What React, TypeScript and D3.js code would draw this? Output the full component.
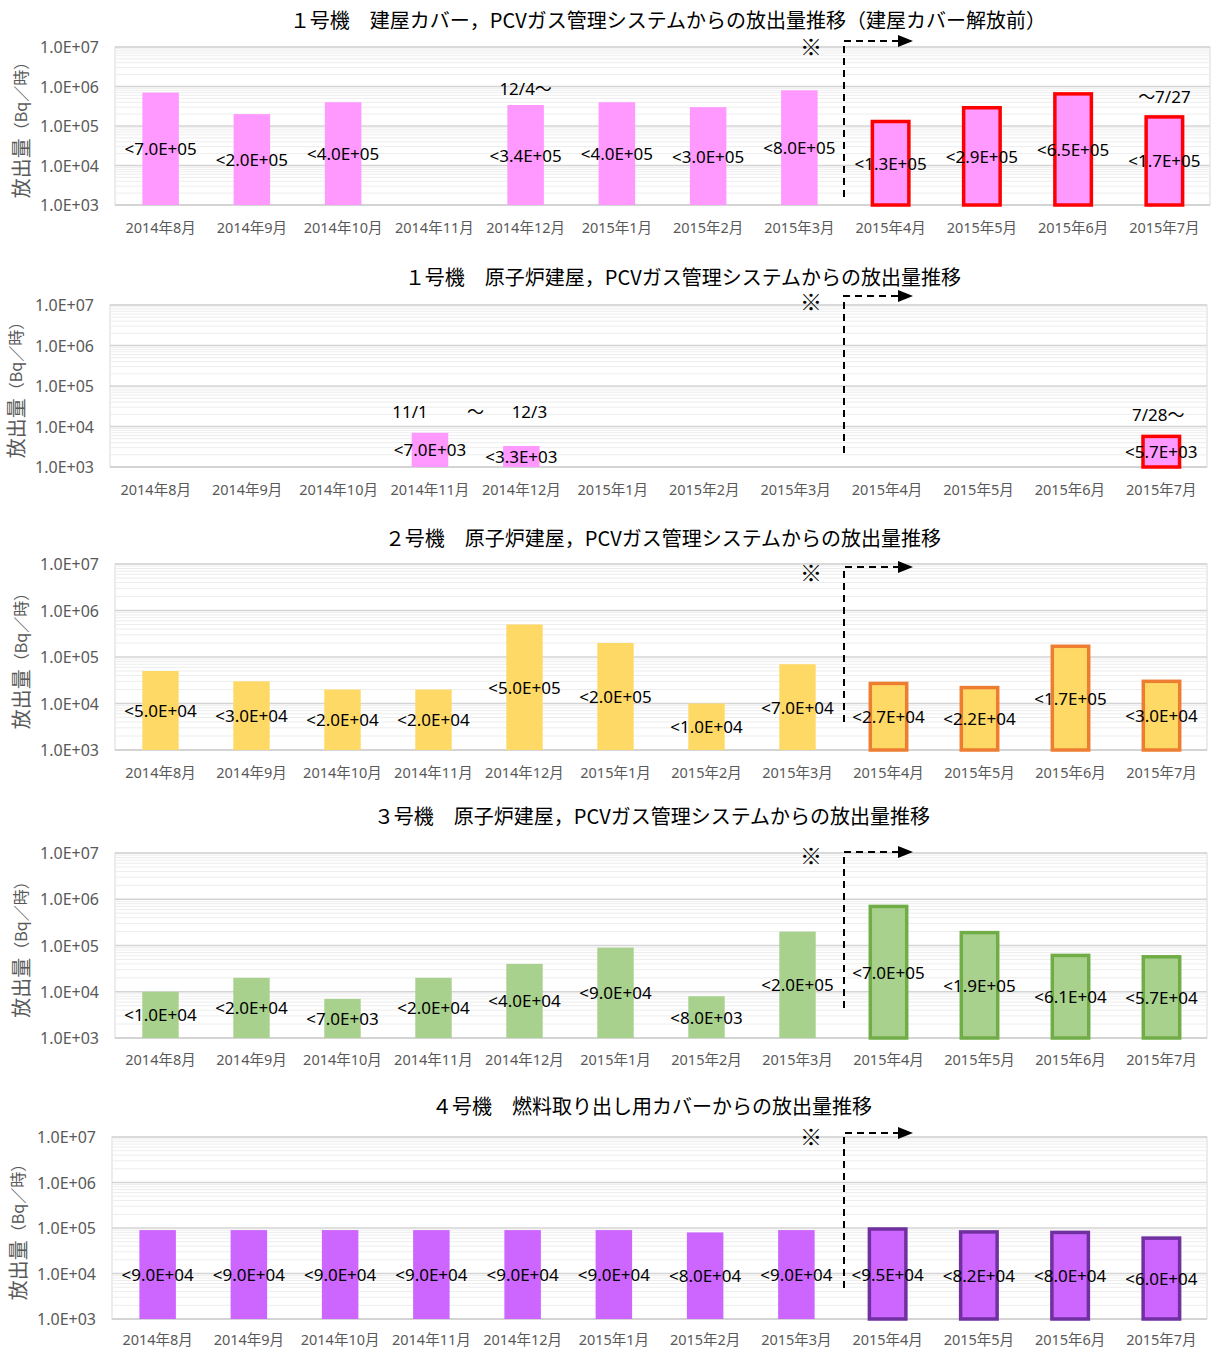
import React from "react";
import * as d3 from "d3";

const months = [
  "2014年8月", "2014年9月", "2014年10月", "2014年11月", "2014年12月", "2015年1月",
  "2015年2月", "2015年3月", "2015年4月", "2015年5月", "2015年6月", "2015年7月",
];

const unit1Cover: (number | null)[] = [7.0e5, 2.0e5, 4.0e5, null, 3.4e5, 4.0e5, 3.0e5, 8.0e5, 1.3e5, 2.9e5, 6.5e5, 1.7e5];
const unit1Reactor: (number | null)[] = [null, null, null, 7.0e3, 3.3e3, null, null, null, null, null, null, 5.7e3];
const unit2: (number | null)[] = [5.0e4, 3.0e4, 2.0e4, 2.0e4, 5.0e5, 2.0e5, 1.0e4, 7.0e4, 2.7e4, 2.2e4, 1.7e5, 3.0e4];
const unit3: (number | null)[] = [1.0e4, 2.0e4, 7.0e3, 2.0e4, 4.0e4, 9.0e4, 8.0e3, 2.0e5, 7.0e5, 1.9e5, 6.1e4, 5.7e4];
const unit4: (number | null)[] = [9.0e4, 9.0e4, 9.0e4, 9.0e4, 9.0e4, 9.0e4, 8.0e4, 9.0e4, 9.5e4, 8.2e4, 8.0e4, 6.0e4];

const yTicks = [1e3, 1e4, 1e5, 1e6, 1e7];
const yTickLabels = ["1.0E+03", "1.0E+04", "1.0E+05", "1.0E+06", "1.0E+07"];

const titles = [
  "１号機　建屋カバー，PCVガス管理システムからの放出量推移（建屋カバー解放前）",
  "１号機　原子炉建屋，PCVガス管理システムからの放出量推移",
  "２号機　原子炉建屋，PCVガス管理システムからの放出量推移",
  "３号機　原子炉建屋，PCVガス管理システムからの放出量推移",
  "４号機　燃料取り出し用カバーからの放出量推移",
];

const highlightStart = "2015年4月";

const annotations1 = [
  { month: "2014年12月", text: "12/4〜", dx: 0, value: 9.1e5 },
  { month: "2015年7月", text: "〜7/27", dx: 0, value: 5.7e5 },
];
const annotations2 = [
  { month: "2014年11月", text: "11/1", dx: -20, value: 2.3e4 },
  { month: "2014年12月", text: "〜", dx: -46, value: 2.3e4 },
  { month: "2014年12月", text: "12/3", dx: 8, value: 2.3e4 },
  { month: "2015年7月", text: "7/28〜", dx: -3, value: 2.0e4 },
];

const JP = "'Noto Sans', 'Noto Sans CJK JP', sans-serif";
const JPT = "'Noto Sans CJK JP', 'Noto Sans', sans-serif";

type Panel = {
  title: string; values: (number | null)[]; fill: string; stroke: string;
  x0: number; x1: number; y0: number; y1: number; titleX: number; titleY: number;
  dashBottom: number; arrowY: number; markY: number; xLabelY: number;
  notes: { month: string; text: string; dx: number; value: number }[];
};

const panels: Panel[] = [
  { title: titles[0], values: unit1Cover, fill: "#FF99FF", stroke: "#FF0000", x0: 115, x1: 1210, y0: 47, y1: 205, titleX: 668, titleY: 19, dashBottom: 197, arrowY: 41, markY: 45, xLabelY: 227, notes: annotations1 },
  { title: titles[1], values: unit1Reactor, fill: "#FF99FF", stroke: "#FF0000", x0: 110, x1: 1207, y0: 305, y1: 467, titleX: 683, titleY: 276, dashBottom: 453, arrowY: 296, markY: 300, xLabelY: 489, notes: annotations2 },
  { title: titles[2], values: unit2, fill: "#FFD966", stroke: "#ED7D31", x0: 115, x1: 1207, y0: 564, y1: 750, titleX: 663, titleY: 537, dashBottom: 722, arrowY: 567, markY: 571, xLabelY: 772, notes: [] },
  { title: titles[3], values: unit3, fill: "#A9D18E", stroke: "#70AD47", x0: 115, x1: 1207, y0: 853, y1: 1038, titleX: 652, titleY: 815, dashBottom: 1008, arrowY: 852, markY: 854, xLabelY: 1059, notes: [] },
  { title: titles[4], values: unit4, fill: "#CC66FF", stroke: "#7030A0", x0: 112, x1: 1207, y0: 1137, y1: 1319, titleX: 652, titleY: 1105, dashBottom: 1288, arrowY: 1133, markY: 1135, xLabelY: 1339, notes: [] },
];

function fmt(v: number) {
  const e = Math.floor(Math.log10(v) + 1e-9);
  const m = v / Math.pow(10, e);
  return "<" + m.toFixed(1) + "E+" + String(e).padStart(2, "0");
}

const minorVals: number[] = [];
for (let d = 3; d < 7; d++) for (let m = 2; m <= 9; m++) minorVals.push(m * Math.pow(10, d));

function ChartPanel({ p }: { p: Panel }) {
  const x = d3.scaleBand<string>().domain(months).range([p.x0, p.x1]).paddingInner(0.6).paddingOuter(0.3);
  const y = d3.scaleLog().domain([1e3, 1e7]).range([p.y1, p.y0]);
  const bw = x.bandwidth();
  const hiIdx = months.indexOf(highlightStart);
  const dashX = 844;
  const arrowY = p.arrowY;
  const yMid = (p.y0 + p.y1) / 2;
  return (
    <g>
      <text x={p.titleX} y={p.titleY} textAnchor="middle" dominantBaseline="central" fontFamily={JPT} fontSize={20} fill="#000">{p.title}</text>
      <rect x={p.x0} y={p.y0} width={p.x1 - p.x0} height={p.y1 - p.y0} fill="#fff" stroke="#D9D9D9" strokeWidth={1} />
      {minorVals.map((v) => (
        <line key={"m" + v} x1={p.x0} x2={p.x1} y1={y(v)} y2={y(v)} stroke="#EDEDED" strokeWidth={1} />
      ))}
      {yTicks.map((v) => (
        <line key={"M" + v} x1={p.x0} x2={p.x1} y1={y(v)} y2={y(v)} stroke="#D4D4D4" strokeWidth={v === 1e3 ? 2 : 1.5} />
      ))}
      {yTicks.map((v, i) => (
        <text key={"t" + v} x={p.x0 - 16} y={y(v)} textAnchor="end" dominantBaseline="central" fontFamily={JP} fontSize={16} fill="#595959">{yTickLabels[i]}</text>
      ))}
      <text transform={`translate(${p.x0 - 95},${yMid}) rotate(-90)`} textAnchor="middle" dominantBaseline="central" fontFamily={JPT} fill="#595959">
        <tspan fontSize={20}>放出量</tspan><tspan fontSize={16}>（Bq／時）</tspan>
      </text>
      {months.map((m) => (
        <text key={"x" + m} x={(x(m) as number) + bw / 2} y={p.xLabelY} textAnchor="middle" dominantBaseline="central" fontFamily={JP} fontSize={14.5} fill="#595959">{m}</text>
      ))}
      {p.values.map((v, i) => {
        if (v == null) return null;
        const m = months[i];
        const bx = x(m) as number;
        const top = y(v);
        const hi = i >= hiIdx;
        return (
          <rect key={"b" + i} x={bx} y={top} width={bw} height={p.y1 - top} fill={p.fill}
            stroke={hi ? p.stroke : "none"} strokeWidth={hi ? 3.5 : 0} />
        );
      })}
      {p.values.map((v, i) => {
        if (v == null) return null;
        const m = months[i];
        const cx = (x(m) as number) + bw / 2;
        const ly = y(Math.sqrt(v * 1e3));
        return (
          <text key={"l" + i} x={cx} y={ly} textAnchor="middle" dominantBaseline="central" fontFamily={JP} fontSize={17} fill="#000">{fmt(v)}</text>
        );
      })}
      {p.notes.map((n, i) => (
        <text key={"n" + i} x={(x(n.month) as number) + bw / 2 + n.dx} y={y(n.value)} textAnchor="middle" dominantBaseline="central" fontFamily={JP} fontSize={17} fill="#000">{n.text}</text>
      ))}
      <text x={811} y={p.markY} textAnchor="middle" dominantBaseline="central" fontFamily={JPT} fontSize={22} fill="#000">※</text>
      <path d={`M${dashX},${p.dashBottom} L${dashX},${arrowY} L${dashX + 54},${arrowY}`} fill="none" stroke="#000" strokeWidth={2} strokeDasharray="7,5" />
      <path d={`M${dashX + 54},${arrowY - 6} L${dashX + 69},${arrowY} L${dashX + 54},${arrowY + 6} Z`} fill="#000" />
    </g>
  );
}

export default function App() {
  return (
    <svg width={1211} height={1349} style={{ position: "absolute", left: 0, top: 0, display: "block", background: "#fff" }}>
      <rect x={0} y={0} width={1211} height={1349} fill="#fff" />
      {panels.map((p, i) => <ChartPanel key={i} p={p} />)}
    </svg>
  );
}
